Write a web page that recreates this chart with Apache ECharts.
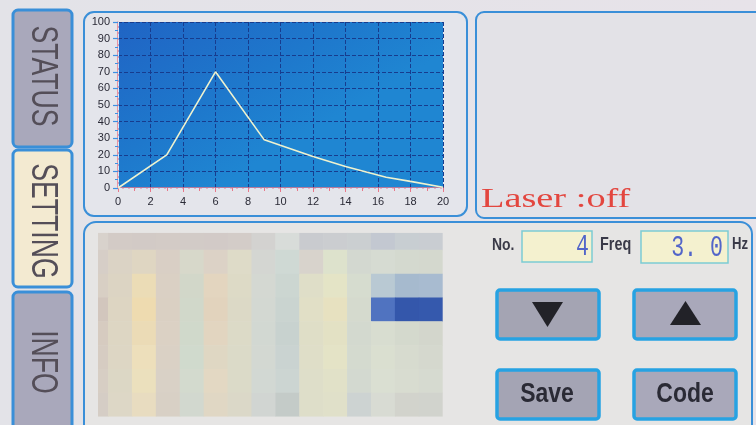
<!DOCTYPE html>
<html><head><meta charset="utf-8">
<script src="https://cdn.jsdelivr.net/npm/echarts@6/dist/echarts.min.js"></script>
<style>html,body{margin:0;padding:0;background:#e4e3e8;}#c{width:756px;height:425px;}</style>
</head><body><div id="c"></div>
<script>
// ---- data ----
const xValues = [0, 3, 6, 9, 12, 14, 16.5, 18, 20];
const yValues = [0, 20, 70, 29, 19, 13, 6.5, 4, 0.5];
const xTickLabels = ['0','2','4','6','8','10','12','14','16','18','20'];
const yTickLabels = ['0','10','20','30','40','50','60','70','80','90','100'];
const tabLabels = ['STATUS', 'SETTING', 'INFO'];
const laserText = 'Laser :off';
const noValue = '4';
const freqValue = '3.0';
const buttonLabels = ['Save', 'Code'];
// mosaic (pixelated) cells, rows top->bottom, 15 columns
const mosaicRows = [
 ['#d8d2cc','#d3cbc6','#d2cac6','#d3cbc6','#d2cbc7','#d2cac7','#d3ccc8','#d3d2d0','#d8dcd9','#c9cbcf','#cbcdd0','#cbcfd1','#c3c8d1','#c8ced2','#c9cdd2'],
 ['#d6cec7','#dbd3c5','#dfd6c2','#d9cfc5','#d7d8ca','#dcd2c6','#dedbc8','#d4d6d2','#cfd9d4','#d8d3cc','#dde2cc','#d3d8d0','#d6dbd2','#d4d9cf','#d4d8ce'],
 ['#d8cfc4','#dcd4c3','#ebdcb6','#dad0c4','#d2d7c9','#e3d5bf','#dddac6','#d4d8d2','#ccd6d1','#dfdec8','#e4e4c6','#d6dccf','#b9c9d3','#a6bace','#a8bbd0'],
 ['#d2c6bd','#ddd5c2','#eedbb0','#dad0c3','#d1d8ca','#e2d3bd','#dcd9c6','#d3d8d2','#cad4d0','#e1dfc6','#e7e1c0','#d5dace','#5073c0','#3457ab','#3559ad'],
 ['#d6cbc0','#ddd6c3','#ebdbb6','#dbd1c4','#d0d9cb','#e2d5c0','#dcdac7','#d2d8d2','#c8d2cf','#dfdec7','#e3e1c4','#d3d9cf','#d8ddd0','#d4d9cd','#d3d6cc'],
 ['#d6ccc2','#ddd6c4','#eddfbb','#dad1c5','#d0dacd','#dfd7c3','#dbdac8','#d3d8d2','#cad3d1','#dfdec8','#e4e3c6','#d4dacf','#dadfd0','#d7dbcf','#d5d8ce'],
 ['#d7cec4','#dcd7c5','#ebe0bd','#d9d1c6','#d3dace','#e3d8c3','#dbdac8','#d2d8d3','#ccd5d2','#dedec9','#e1e1c8','#d3d9d0','#dadfd2','#d8dcd0','#d6dad0'],
 ['#d5cdc5','#ddd7c6','#e8dcc0','#d8d0c5','#d2d8cf','#e0d7c4','#dbd8c8','#d1d5d2','#c4cbc8','#dedec9','#e0e0c9','#cdd3d2','#d8dbd3','#d2d3cc','#d1d3cd']
];

// ---- build ----
const lineData = xValues.map((x, i) => [x, yValues[i]]);
const mosaicData = [];
mosaicRows.forEach((row, r) => row.forEach((col, c) => mosaicData.push({value: [c, r], itemStyle: {color: col}})));

const sans = "'Liberation Sans',Arial,sans-serif";
const BLUE = '#3a8fd8';
const BTN = '#27a2e2';

function panel(x, y, w, h, r, fill) {
  return {type: 'rect', z: -5, shape: {x, y, width: w, height: h, r}, style: {fill, stroke: BLUE, lineWidth: 2}};
}
function tab(y, h, fill, label, cy) {
  return [
    {type: 'rect', z: -4, shape: {x: 13, y, width: 59, height: h, r: 5}, style: {fill, stroke: BLUE, lineWidth: 3}},
    {type: 'text', z: -3, x: 42, y: cy, rotation: -Math.PI / 2, scaleX: 0.72,
     style: {text: label, x: 0, y: 0, align: 'center', verticalAlign: 'middle', fill: '#544e58', font: '37px ' + sans}}
  ];
}
function button(x, y, fill) {
  return {type: 'rect', z: -4, shape: {x, y, width: 102, height: 49, r: 3}, style: {fill, stroke: BTN, lineWidth: 3.5}};
}

const graphics = [
  panel(84, 12, 383, 204, 10, '#e4e5eb'),
  panel(476, 12, 290, 206, 8, '#e3e2e7'),
  panel(84, 222, 668, 220, 12, '#e6e5e4'),
  ...tab(10, 137, '#a9a8bb', tabLabels[0], 76),
  ...tab(150, 137, '#f3ead1', tabLabels[1], 221),
  ...tab(292, 150, '#a9a8bb', tabLabels[2], 362),
  {type: 'text', z: 5, x: 481, y: 213, scaleX: 1.42,
   style: {text: laserText, x: 0, y: 0, align: 'left', verticalAlign: 'bottom', fill: '#e3463f', font: "27px 'Liberation Serif','DejaVu Serif',serif"}},
  {type: 'text', z: 5, x: 492, y: 245, scaleX: 0.82, style: {text: 'No.', verticalAlign: 'middle', fill: '#3a3a48', font: 'bold 17px ' + sans}},
  {type: 'rect', z: 4, shape: {x: 522, y: 231, width: 70, height: 31}, style: {fill: '#f4f1cf', stroke: '#7ccbd3', lineWidth: 1.5}},
  {type: 'text', z: 5, x: 589, y: 247, scaleX: 0.72, style: {text: noValue, align: 'right', verticalAlign: 'middle', fill: '#5265c9', font: "30px 'Liberation Mono','DejaVu Sans Mono',monospace"}},
  {type: 'text', z: 5, x: 600, y: 245, scaleX: 0.8, style: {text: 'Freq', verticalAlign: 'middle', fill: '#3a3a48', font: 'bold 18px ' + sans}},
  {type: 'rect', z: 4, shape: {x: 641, y: 231, width: 87, height: 32}, style: {fill: '#f4f1cf', stroke: '#7ccbd3', lineWidth: 1.5}},
  {type: 'text', z: 5, x: 723, y: 248, scaleX: 0.72, style: {text: freqValue.split('').join(' ').replace(' . ', '. '), align: 'right', verticalAlign: 'middle', fill: '#5265c9', font: "30px 'Liberation Mono','DejaVu Sans Mono',monospace"}},
  {type: 'text', z: 5, x: 732, y: 245, scaleX: 0.82, style: {text: 'Hz', verticalAlign: 'middle', fill: '#3a3a48', font: 'bold 16px ' + sans}},
  button(497, 290, '#a4a4b3'),
  button(634, 290, '#a9a8ba'),
  button(497, 370, '#a4a4b4'),
  button(634, 370, '#a9a8ba'),
  {type: 'polygon', z: 5, shape: {points: [[532, 302], [563, 302], [547.5, 327]]}, style: {fill: '#222228'}},
  {type: 'polygon', z: 5, shape: {points: [[670, 325], [701, 325], [685.5, 301]]}, style: {fill: '#222228'}},
  {type: 'text', z: 5, x: 547, y: 394, scaleX: 0.82, style: {text: buttonLabels[0], align: 'center', verticalAlign: 'middle', fill: '#2a2a35', font: 'bold 28px ' + sans}},
  {type: 'text', z: 5, x: 685, y: 394, scaleX: 0.82, style: {text: buttonLabels[1], align: 'center', verticalAlign: 'middle', fill: '#2a2a35', font: 'bold 28px ' + sans}}
];

const chart = echarts.init(document.getElementById('c'));
chart.setOption({
  animation: false,
  backgroundColor: {type: 'linear', x: 0, y: 0, x2: 1, y2: 0, colorStops: [{offset: 0, color: '#e3e3e8'}, {offset: 1, color: '#e7e3e9'}]},
  graphic: {elements: graphics},
  grid: [
    {left: 118, right: 313, top: 22, bottom: 237, show: true, borderWidth: 0,
     backgroundColor: {type: 'linear', x: 0, y: 0, x2: 0.3, y2: 1, colorStops: [{offset: 0, color: '#2064c4'}, {offset: 0.6, color: '#1e78cc'}, {offset: 1, color: '#1f86d2'}]}},
    {left: 98, right: 313.3, top: 232.7, bottom: 8.3}
  ],
  xAxis: [
    {type: 'value', gridIndex: 0, min: 0, max: 20, interval: 2,
     axisLine: {onZero: false, lineStyle: {color: '#e8788a', width: 1.5}},
     axisTick: {show: true, length: 4, lineStyle: {color: '#e8788a'}},
     minorTick: {show: true, splitNumber: 2, length: 3, lineStyle: {color: '#e8788a'}},
     axisLabel: {color: '#2a2a36', fontSize: 11, margin: 8, fontFamily: sans,
       formatter: (v) => xTickLabels[Math.round(v / 2)]},
     splitLine: {show: true, lineStyle: {color: '#173c8e', type: 'dashed', width: 1}}},
    {type: 'value', gridIndex: 0, position: 'top', min: 0, max: 20,
     axisLine: {show: true, lineStyle: {color: '#d8e8f8', type: 'dashed', width: 1}},
     axisTick: {show: false}, axisLabel: {show: false}, splitLine: {show: false}},
    {type: 'value', gridIndex: 1, min: 0.58, max: 15, show: false}
  ],
  yAxis: [
    {type: 'value', gridIndex: 0, min: 0, max: 100, interval: 10,
     axisLine: {show: true, onZero: false, lineStyle: {color: '#e8788a', width: 1.5}},
     axisTick: {show: true, length: 5, lineStyle: {color: '#3d8fe2', width: 1.2}},
     minorTick: {show: true, splitNumber: 2, length: 3, lineStyle: {color: '#3d8fe2'}},
     axisLabel: {color: '#2a2a36', fontSize: 11, margin: 8, fontFamily: sans,
       formatter: (v) => yTickLabels[Math.round(v / 10)]},
     splitLine: {show: true, lineStyle: {color: '#173c8e', type: 'dashed', width: 1}}},
    {type: 'value', gridIndex: 0, position: 'right', min: 0, max: 100,
     axisLine: {show: true, lineStyle: {color: '#d8e8f8', type: 'dashed', width: 1}},
     axisTick: {show: false}, axisLabel: {show: false}, splitLine: {show: false}},
    {type: 'value', gridIndex: 1, min: 0.28, max: 8, inverse: true, show: false}
  ],
  series: [
    {type: 'line', xAxisIndex: 0, yAxisIndex: 0, data: lineData, symbol: 'none',
     lineStyle: {color: '#eef2cf', width: 1.6}, z: 5},
    {type: 'custom', xAxisIndex: 2, yAxisIndex: 2, clip: true, data: mosaicData,
     renderItem: function (params, api) {
       const c = api.value(0), r = api.value(1);
       const p0 = api.coord([c, r]);
       const p1 = api.coord([c + 1, r + 1]);
       const rect = echarts.graphic.clipRectByRect(
         {x: p0[0], y: p0[1], width: p1[0] - p0[0] + 0.5, height: p1[1] - p0[1] + 0.5},
         {x: params.coordSys.x, y: params.coordSys.y, width: params.coordSys.width, height: params.coordSys.height});
       return rect && {type: 'rect', shape: rect, style: {fill: api.visual('color')}};
     }}
  ]
});
</script></body></html>
